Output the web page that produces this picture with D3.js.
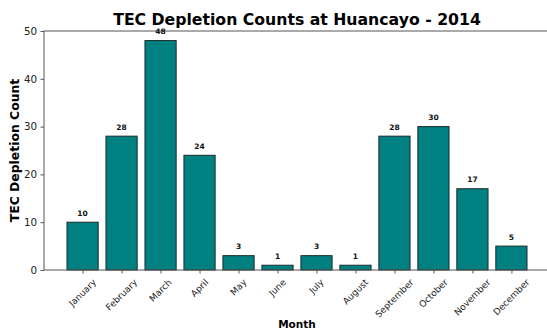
<!DOCTYPE html>
<html>
<head>
<meta charset="utf-8">
<script src="https://cdn.jsdelivr.net/npm/d3@7"></script>
<style>
  html, body { margin: 0; padding: 0; background: #fff; }
  svg { display: block; font-family: "DejaVu Sans", sans-serif; }
</style>
</head>
<body>
<svg id="chart" width="547" height="331"></svg>
<script>
// Monthly TEC depletion counts, Huancayo 2014
const months = ["January", "February", "March", "April", "May", "June",
                "July", "August", "September", "October", "November", "December"];
const counts = [10, 28, 48, 24, 3, 1, 3, 1, 28, 30, 17, 5];
const yTicks = [0, 10, 20, 30, 40, 50];

const svg = d3.select("#chart");
const plotLeft = 44, plotRight = 550, plotTop = 31, plotBottom = 270;

// Bar positions: index scale with padding either side
const x = d3.scaleLinear().domain([-0.99, months.length - 1 + 0.99]).range([plotLeft, plotRight]);
const barW = x(0.8) - x(0);
const y = d3.scaleLinear().domain([0, 50]).range([plotBottom, plotTop]);

// Bars
svg.append("g").selectAll("rect")
  .data(counts)
  .join("rect")
  .attr("x", (d, i) => x(i - 0.4))
  .attr("y", d => y(d))
  .attr("width", barW)
  .attr("height", d => y(0) - y(d))
  .attr("fill", "#008080")
  .attr("stroke", "#1c2b2b")
  .attr("stroke-width", 1);

// Spines
const spine = svg.append("g").attr("stroke", "#555").attr("stroke-width", 1).attr("fill", "none");
spine.append("line").attr("x1", plotLeft).attr("x2", plotRight).attr("y1", plotTop).attr("y2", plotTop);
spine.append("line").attr("x1", plotLeft).attr("x2", plotLeft).attr("y1", plotTop).attr("y2", plotBottom);
spine.append("line").attr("x1", plotLeft).attr("x2", plotRight).attr("y1", plotBottom).attr("y2", plotBottom);

// Value labels above bars
svg.append("g").selectAll("text")
  .data(counts)
  .join("text")
  .attr("x", (d, i) => x(i))
  .attr("y", d => y(d) - 6.5)
  .attr("text-anchor", "middle")
  .attr("font-size", "7.5px")
  .attr("font-weight", "bold")
  .attr("fill", "#111")
  .text(d => d);

// Y axis
const yAxis = svg.append("g")
  .attr("transform", `translate(${plotLeft},0)`)
  .call(d3.axisLeft(y).tickValues(yTicks).tickSize(3.5).tickPadding(3.5));
yAxis.select(".domain").remove();
yAxis.selectAll(".tick line").attr("stroke", "#555");
yAxis.selectAll(".tick text")
  .attr("font-size", "10.3px")
  .attr("font-family", "DejaVu Sans, sans-serif")
  .attr("fill", "#222");

// X axis with rotated month labels
const xAxis = svg.append("g")
  .attr("transform", `translate(0,${plotBottom})`)
  .call(d3.axisBottom(x).tickValues(d3.range(months.length)).tickSize(3.5).tickFormat(""));
xAxis.select(".domain").remove();
xAxis.selectAll(".tick line").attr("stroke", "#555");

const monthFont = 9;
const mLabels = svg.append("g").selectAll("text")
  .data(months)
  .join("text")
  .attr("font-size", monthFont + "px")
  .attr("fill", "#222")
  .attr("text-anchor", "middle")
  .attr("dominant-baseline", "central")
  .text(d => d);
mLabels.each(function(d, i) {
  const w = this.getComputedTextLength();
  const h = monthFont * 1.17;
  const half = (w + h) * Math.SQRT1_2 / 2;
  d3.select(this).attr("transform",
    `translate(${x(i)},${plotBottom + 7 + half}) rotate(-45)`);
});

// Title and axis labels
svg.append("text")
  .attr("x", (plotLeft + plotRight) / 2).attr("y", 25)
  .attr("text-anchor", "middle")
  .attr("font-size", "15.7px").attr("font-weight", "bold").attr("fill", "#000")
  .text("TEC Depletion Counts at Huancayo - 2014");

svg.append("text")
  .attr("transform", `translate(19,${(plotTop + plotBottom) / 2}) rotate(-90)`)
  .attr("text-anchor", "middle")
  .attr("font-size", "12.4px").attr("font-weight", "bold").attr("fill", "#000")
  .text("TEC Depletion Count");

svg.append("text")
  .attr("x", (plotLeft + plotRight) / 2).attr("y", 328)
  .attr("text-anchor", "middle")
  .attr("font-size", "10.5px").attr("font-weight", "bold").attr("fill", "#000")
  .text("Month");
</script>
</body>
</html>
